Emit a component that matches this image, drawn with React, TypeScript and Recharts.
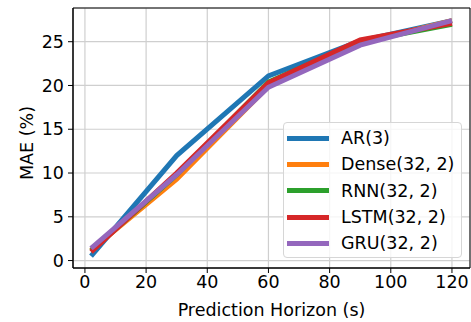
import { LineChart, Line, XAxis, YAxis, CartesianGrid, ReferenceArea } from "recharts";

const horizons = [2, 30, 60, 90, 120];
const ar = [0.5, 12.0, 21.1, 25.1, 27.4];
const dense = [1.2, 9.3, 19.9, 24.8, 27.4];
const rnn = [1.1, 9.8, 20.4, 25.0, 27.0];
const lstm = [1.0, 10.0, 20.3, 25.2, 27.1];
const gru = [1.4, 9.8, 19.8, 24.6, 27.4];

const xTicks = [0, 20, 40, 60, 80, 100, 120];
const yTicks = [0, 5, 10, 15, 20, 25];

const series = [
  { key: "ar", name: "AR(3)", color: "#1f77b4", values: ar },
  { key: "dense", name: "Dense(32, 2)", color: "#ff7f0e", values: dense },
  { key: "rnn", name: "RNN(32, 2)", color: "#2ca02c", values: rnn },
  { key: "lstm", name: "LSTM(32, 2)", color: "#d62728", values: lstm },
  { key: "gru", name: "GRU(32, 2)", color: "#9467bd", values: gru },
];

const data = horizons.map((h, i) => {
  const row: Record<string, number> = { h };
  for (const s of series) row[s.key] = s.values[i];
  return row;
});

const font = "DejaVu Sans, sans-serif";
const fs = 17.5;

// legend drawn as plain html over the chart, like matplotlib's "best" box
function LegendBox() {
  return (
    <div
      style={{
        position: "absolute",
        left: 283,
        top: 122,
        width: 179,
        height: 136,
        boxSizing: "border-box",
        background: "rgba(255,255,255,0.8)",
        border: "1px solid #d6d6d6",
        borderRadius: 4,
        padding: "2px 0 0 3px",
        fontFamily: font,
        fontSize: fs,
        color: "#000",
      }}
    >
      {series.map((s) => (
        <div key={s.key} style={{ display: "flex", alignItems: "center", height: 26.3 }}>
          <div style={{ width: 42, height: 5, background: s.color, marginRight: 12 }} />
          <span>{s.name}</span>
        </div>
      ))}
    </div>
  );
}

export default function App() {
  return (
    <div style={{ position: "absolute", left: 0, top: 0, width: 471, height: 322, background: "#fff" }}>
      <LineChart width={471} height={322} data={data} margin={{ top: 8, right: 1, left: 0, bottom: 0 }}>
        <CartesianGrid stroke="#cfcfcf" strokeWidth={1.2} horizontal vertical />
        <XAxis
          type="number"
          dataKey="h"
          domain={[-3.9, 125.9]}
          ticks={xTicks}
          interval={0}
          allowDataOverflow
          height={54}
          tickSize={5}
          tickMargin={3}
          tick={{ fill: "#000", fontSize: fs, fontFamily: font }}
          tickLine={{ stroke: "#000" }}
          axisLine={{ stroke: "#000" }}
          label={{ value: "Prediction Horizon (s)", position: "insideBottom", offset: 6, fill: "#000", fontSize: fs, fontFamily: font }}
        />
        <YAxis
          type="number"
          domain={[-0.85, 28.85]}
          ticks={yTicks}
          interval={0}
          allowDataOverflow
          width={73}
          tickSize={5}
          tickMargin={4}
          tick={{ fill: "#000", fontSize: fs, fontFamily: font }}
          tickLine={{ stroke: "#000" }}
          axisLine={{ stroke: "#000" }}
          label={{
            content: () => (
              <text
                x={27}
                y={143}
                transform="rotate(-90, 27, 143)"
                textAnchor="middle"
                dominantBaseline="central"
                fill="#000"
                fontSize={fs}
                fontFamily={font}
              >
                MAE (%)
              </text>
            ),
          }}
        />
        <ReferenceArea x1={-3.9} x2={125.9} y1={-0.85} y2={28.85} fill="none" stroke="#000" strokeWidth={1} ifOverflow="extendDomain" />
        {series.map((s) => (
          <Line
            key={s.key}
            type="linear"
            dataKey={s.key}
            name={s.name}
            stroke={s.color}
            strokeWidth={5}
            dot={false}
            isAnimationActive={false}
          />
        ))}
      </LineChart>
      <LegendBox />
    </div>
  );
}
